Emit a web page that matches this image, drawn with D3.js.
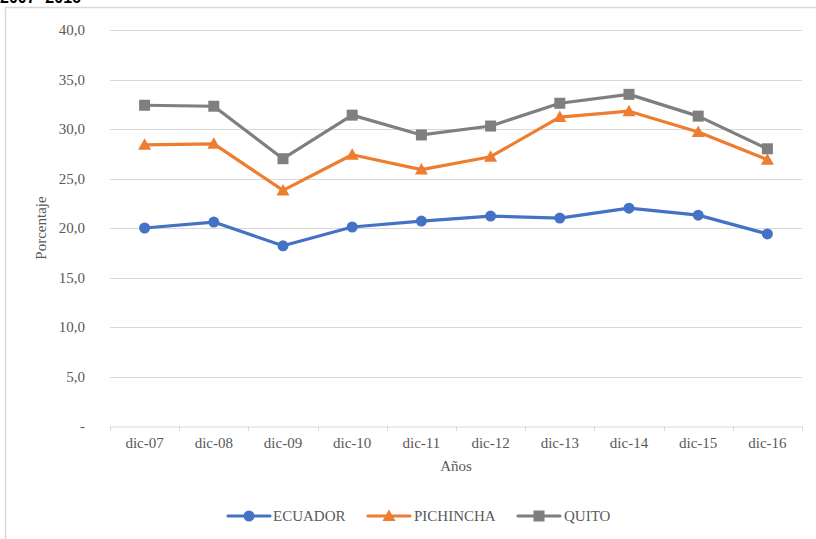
<!DOCTYPE html>
<html>
<head>
<meta charset="utf-8">
<script src="https://cdn.jsdelivr.net/npm/d3@7"></script>
<style>
  html, body { margin: 0; padding: 0; background: #fff; }
  svg { display: block; }
  svg text.serif { font-family: "Liberation Serif", "Times New Roman", "DejaVu Serif", serif; }
</style>
</head>
<body>
<svg id="chart" width="816" height="539"></svg>
<script>
const categories = ["dic-07","dic-08","dic-09","dic-10","dic-11","dic-12","dic-13","dic-14","dic-15","dic-16"];
const ecuador   = [20.0, 20.6, 18.2, 20.1, 20.7, 21.2, 21.0, 22.0, 21.3, 19.4];
const pichincha = [28.4, 28.5, 23.8, 27.4, 25.9, 27.2, 31.2, 31.8, 29.7, 26.9];
const quito     = [32.4, 32.3, 27.0, 31.4, 29.4, 30.3, 32.6, 33.5, 31.3, 28.0];
const yTicks = [0, 5, 10, 15, 20, 25, 30, 35, 40];
const seriesNames = ["ECUADOR", "PICHINCHA", "QUITO"];

const series = [
  { name: seriesNames[0], values: ecuador,   color: "#4472C4", marker: "circle" },
  { name: seriesNames[1], values: pichincha, color: "#ED7D31", marker: "triangle" },
  { name: seriesNames[2], values: quito,     color: "#7F7F7F", marker: "square" }
];

const svg = d3.select("#chart");
const textColor = "#595959";
const gridColor = "#D9D9D9";
const fs = 15;

// title (cut off at top, as in the source image)
svg.append("text").attr("x", 0).attr("y", 3)
  .style("font-family", "'Liberation Sans', Arial, sans-serif")
  .attr("font-weight", "bold").attr("font-size", 16).attr("fill", "#000")
  .text("2007- 2016");

// chart frame
svg.append("rect").attr("x", 5.5).attr("y", 7.5).attr("width", 900).attr("height", 600)
  .attr("fill", "none").attr("stroke", gridColor).attr("stroke-width", 1.5);

const pLeft = 110, pRight = 802, pTop = 30, pBottom = 426;
const x = d3.scaleBand().domain(categories).range([pLeft, pRight]);
const y = d3.scaleLinear().domain([0, 40]).range([pBottom, pTop]);

// gridlines
svg.append("g").selectAll("line").data(yTicks.filter(d => d > 0)).join("line")
  .attr("x1", pLeft).attr("x2", pRight)
  .attr("y1", d => Math.round(y(d)) + 0.5).attr("y2", d => Math.round(y(d)) + 0.5)
  .attr("stroke", gridColor).attr("stroke-width", 1);

// y axis labels
const yAxis = d3.axisLeft(y).tickValues(yTicks).tickSize(0).tickPadding(0)
  .tickFormat(d => d === 0 ? "-" : d3.format(".1f")(d).replace(".", ","));
const yg = svg.append("g").attr("transform", `translate(${85},0)`).call(yAxis);
yg.select(".domain").remove();
yg.attr("font-family", null).attr("font-size", null);
yg.selectAll("text").attr("class", "serif").attr("font-size", fs).attr("fill", textColor);

// x axis
const xAxis = d3.axisBottom(x).tickSize(0).tickPadding(11);
const xg = svg.append("g").attr("transform", `translate(0,${pBottom + 0.5})`).call(xAxis);
xg.attr("font-family", null).attr("font-size", null);
xg.select(".domain").attr("stroke", gridColor).attr("stroke-width", 1.2);
xg.selectAll("text").attr("class", "serif").attr("font-size", fs).attr("fill", textColor);
// tick marks at band boundaries
const bounds = categories.map(c => x(c)).concat([pRight]);
svg.append("g").selectAll("line").data(bounds).join("line")
  .attr("x1", d => Math.round(d) + 0.5).attr("x2", d => Math.round(d) + 0.5)
  .attr("y1", pBottom).attr("y2", pBottom + 5)
  .attr("stroke", gridColor).attr("stroke-width", 1);

// axis titles
svg.append("text").attr("class", "serif").attr("x", 456).attr("y", 471).attr("text-anchor", "middle")
  .attr("font-size", fs).attr("fill", textColor).text("Años");
svg.append("text").attr("class", "serif").attr("transform", "translate(46,228) rotate(-90)").attr("text-anchor", "middle")
  .attr("font-size", fs).attr("fill", textColor).text("Porcentaje");

// markers
function drawMarker(g, type, cx, cy, color) {
  if (type === "circle") {
    g.append("circle").attr("cx", cx).attr("cy", cy).attr("r", 5.5).attr("fill", color);
  } else if (type === "square") {
    g.append("rect").attr("x", cx - 5.5).attr("y", cy - 5.5).attr("width", 11).attr("height", 11).attr("fill", color);
  } else {
    g.append("path").attr("d", `M${cx},${cy - 6.5}L${cx + 6.5},${cy + 5}L${cx - 6.5},${cy + 5}Z`).attr("fill", color);
  }
}

const line = d3.line().x((d, i) => x(categories[i]) + x.bandwidth() / 2).y(d => y(d));
series.forEach(s => {
  const g = svg.append("g");
  g.append("path").datum(s.values).attr("d", line).attr("fill", "none")
    .attr("stroke", s.color).attr("stroke-width", 3.2).attr("stroke-linejoin", "round");
  s.values.forEach((v, i) => drawMarker(g, s.marker, x(categories[i]) + x.bandwidth() / 2, y(v), s.color));
});

// legend
const legendItems = [
  { lx: 228, tx: 273 },
  { lx: 368, tx: 414 },
  { lx: 518, tx: 564 }
];
const ly = 516;
series.forEach((s, i) => {
  const g = svg.append("g");
  const p = legendItems[i];
  g.append("line").attr("x1", p.lx).attr("x2", p.lx + 42).attr("y1", ly).attr("y2", ly)
    .attr("stroke", s.color).attr("stroke-width", 3.2).attr("stroke-linecap", "round");
  drawMarker(g, s.marker, p.lx + 21, ly, s.color);
  g.append("text").attr("class", "serif").attr("x", p.tx).attr("y", ly + 5)
    .attr("font-size", fs).attr("fill", textColor).text(s.name);
});
</script>
</body>
</html>
